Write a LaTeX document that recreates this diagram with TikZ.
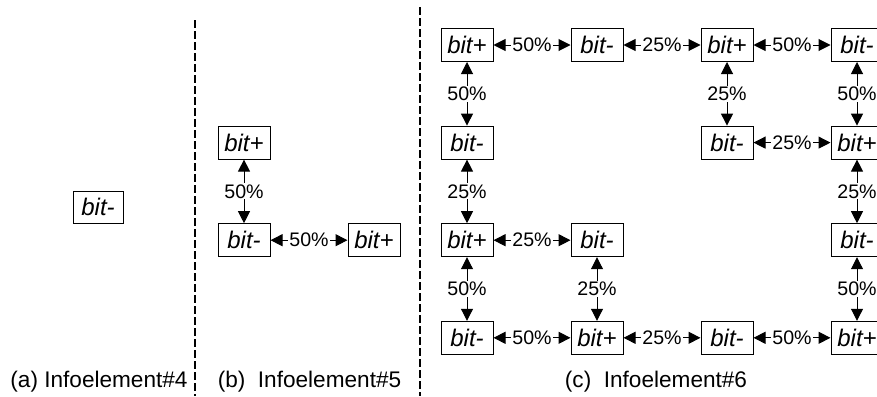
\documentclass[tikz,border=0pt]{standalone}
\usepackage{fontspec}
\setmainfont{Liberation Sans}
\usetikzlibrary{arrows.meta}

\begin{document}
\begin{tikzpicture}[x=1pt, y=1pt,
    bitbox/.style={draw, line width=0.5pt, minimum width=26pt, minimum height=16.5pt, inner sep=0pt, font=\fontsize{12}{14}\selectfont\itshape},
    pct/.style={fill=white, inner sep=0.5pt, font=\fontsize{9.8}{11}\selectfont},
    link/.style={{Triangle[length=6pt,width=6pt]}-{Triangle[length=6pt,width=6pt]}, line width=0.5pt},
    divider/.style={line width=1.1pt, dash pattern=on 4pt off 1.5pt},
    caption/.style={anchor=base, font=\fontsize{11.3}{13}\selectfont}]
          \clip (0,0) rectangle (438.5,-198);

          % dividers
          \draw[divider] (97.5,-10) -- (97.5,-198);
          \draw[divider] (210,-3.5) -- (210,-198);

          % (a)
          \node (a0)[bitbox, minimum width=25pt, minimum height=16pt] at (49,-103.5) {bit-};
          \node (capa)[caption] at (49.5,-193.5) {(a) Infoelement\#4};

          % (b)
          \begin{scope}[xshift=122pt, yshift=-22.5pt, x=65pt, y=48.8pt]
            \node (b0)[bitbox] at (0,-1) {bit+};
            \node (b1)[bitbox] at (0,-2) {bit-};
            \node (b2)[bitbox] at (1,-2) {bit+};

            \draw[link] (b0) -- node[pct] {50\%} (b1);
            \draw[link] (b1) -- node[pct] {50\%} (b2);
          \end{scope}
          \node (capb)[caption] at (154.75,-193.5) {(b)\ \ Infoelement\#5};

          % (c)
          \begin{scope}[xshift=233.5pt, yshift=-22.5pt, x=65pt, y=48.8pt]
            \node (c00)[bitbox] at (0, 0)  {bit+};
            \node (c01)[bitbox] at (1, 0)  {bit-};
            \node (c02)[bitbox] at (2, 0)  {bit+};
            \node (c03)[bitbox] at (3, 0)  {bit-};
            \node (c10)[bitbox] at (0, -1) {bit-};
            \node (c12)[bitbox] at (2, -1) {bit-};
            \node (c13)[bitbox] at (3, -1) {bit+};
            \node (c20)[bitbox] at (0, -2) {bit+};
            \node (c21)[bitbox] at (1, -2) {bit-};
            \node (c23)[bitbox] at (3, -2) {bit-};
            \node (c30)[bitbox] at (0, -3) {bit-};
            \node (c31)[bitbox] at (1, -3) {bit+};
            \node (c32)[bitbox] at (2, -3) {bit-};
            \node (c33)[bitbox] at (3, -3) {bit+};

            % rows
            \draw[link] (c00) -- node[pct] {50\%} (c01);
            \draw[link] (c01) -- node[pct] {25\%} (c02);
            \draw[link] (c02) -- node[pct] {50\%} (c03);
            \draw[link] (c12) -- node[pct] {25\%} (c13);
            \draw[link] (c20) -- node[pct] {25\%} (c21);
            \draw[link] (c30) -- node[pct] {50\%} (c31);
            \draw[link] (c31) -- node[pct] {25\%} (c32);
            \draw[link] (c32) -- node[pct] {50\%} (c33);
            % columns
            \draw[link] (c00) -- node[pct] {50\%} (c10);
            \draw[link] (c10) -- node[pct] {25\%} (c20);
            \draw[link] (c20) -- node[pct] {50\%} (c30);
            \draw[link] (c21) -- node[pct] {25\%} (c31);
            \draw[link] (c02) -- node[pct] {25\%} (c12);
            \draw[link] (c03) -- node[pct] {50\%} (c13);
            \draw[link] (c13) -- node[pct] {25\%} (c23);
            \draw[link] (c23) -- node[pct] {50\%} (c33);
          \end{scope}
          \node (capc)[caption] at (328,-193.5) {(c)\ \ Infoelement\#6};
      \end{tikzpicture}
\end{document}
